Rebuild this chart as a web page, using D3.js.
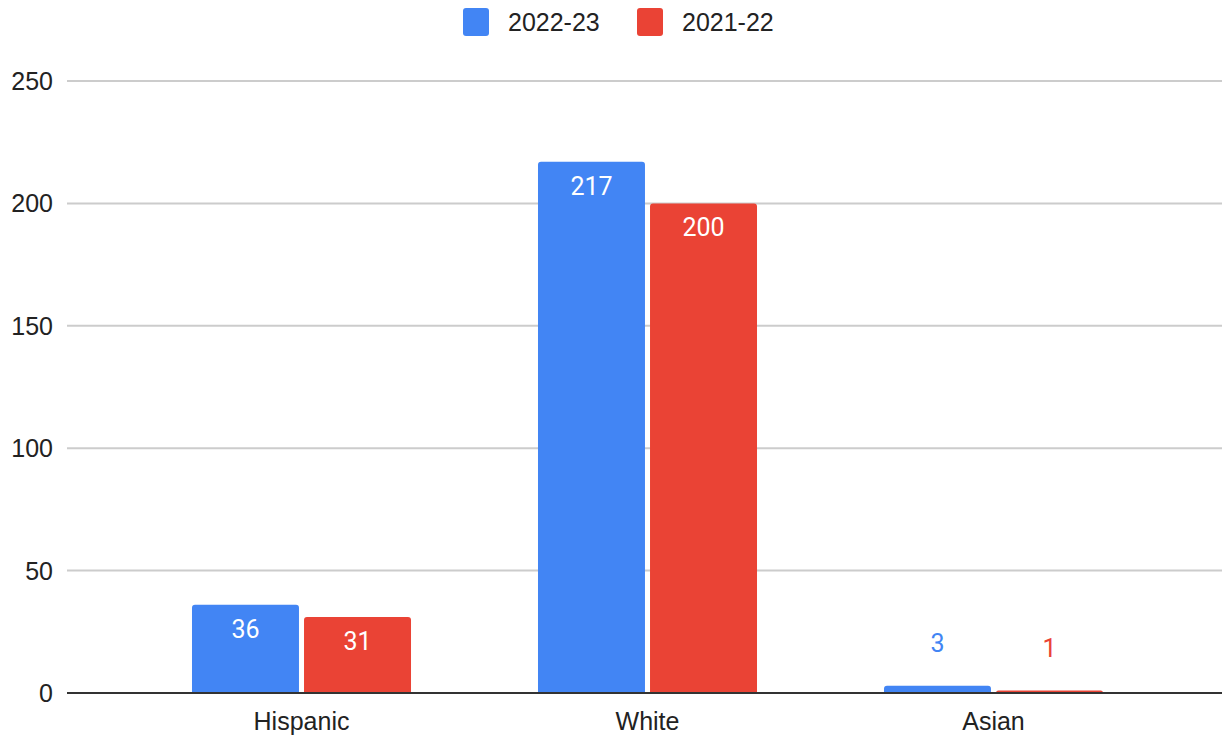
<!DOCTYPE html>
<html><head><meta charset="utf-8">
<script src="https://cdn.jsdelivr.net/npm/d3@7"></script>
<style>body{margin:0;background:#fff;font-family:"Liberation Sans",Arial,sans-serif;}</style>
</head><body><svg id="c" width="1222" height="738"></svg>
<script>
const categories = ["Hispanic", "White", "Asian"];
const seriesNames = ["2022-23", "2021-22"];
const values2223 = [36, 217, 3];
const values2122 = [31, 200, 1];
const yTicks = [0, 50, 100, 150, 200, 250];
const colors = ["#4285f4", "#ea4335"];

const svg = d3.select("#c");
const axisFont = "'Liberation Sans', Arial, sans-serif";
const y = d3.scaleLinear().domain([0, 250]).range([693, 81]);
const x = d3.scaleBand().domain(categories).range([128.5, 1166.5]).paddingInner(0.367).paddingOuter(0.1835);
const xs = d3.scaleBand().domain(seriesNames).range([0, x.bandwidth()]).paddingInner(0.045);
const gridL = 67, gridR = 1222;

svg.append("g").selectAll("line").data(yTicks.filter(d => d > 0)).join("line")
  .attr("x1", gridL).attr("x2", gridR).attr("y1", d => y(d)).attr("y2", d => y(d))
  .attr("stroke", "#cccccc").attr("stroke-width", 2);

svg.append("g").selectAll("text").data(yTicks).join("text")
  .attr("x", 53).attr("y", d => y(d) + 9).attr("text-anchor", "end")
  .attr("font-family", axisFont).attr("font-size", 25).attr("fill", "#222").text(d => d);

const data = categories.map((c, i) => ({cat: c, vals: [values2223[i], values2122[i]]}));

function topRounded(x0, y0, w, h, r) {
  r = Math.min(r, h, w / 2);
  return `M${x0},${y0 + h}V${y0 + r}Q${x0},${y0} ${x0 + r},${y0}H${x0 + w - r}Q${x0 + w},${y0} ${x0 + w},${y0 + r}V${y0 + h}Z`;
}

const groups = svg.append("g").selectAll("g").data(data).join("g")
  .attr("transform", d => `translate(${x(d.cat)},0)`);
groups.selectAll("path").data(d => d.vals.map((v, j) => ({v, s: seriesNames[j], j}))).join("path")
  .attr("d", d => topRounded(xs(d.s), y(d.v), xs.bandwidth(), y(0) - y(d.v), 3))
  .attr("fill", d => colors[d.j]);
groups.selectAll("text").data(d => d.vals.map((v, j) => ({v, s: seriesNames[j], j}))).join("text")
  .attr("x", d => xs(d.s) + xs.bandwidth() / 2)
  .attr("y", d => (y(0) - y(d.v) > 45) ? y(d.v) + 33 : y(d.v) - 34)
  .attr("text-anchor", "middle").attr("font-family", "Roboto, sans-serif").attr("font-size", 25)
  .attr("fill", d => (y(0) - y(d.v) > 45) ? "#fff" : colors[d.j])
  .text(d => d.v);

svg.append("line").attr("x1", gridL).attr("x2", gridR).attr("y1", y(0)).attr("y2", y(0))
  .attr("stroke", "#333").attr("stroke-width", 2);

svg.append("g").selectAll("text").data(categories).join("text")
  .attr("x", d => x(d) + x.bandwidth() / 2).attr("y", 730).attr("text-anchor", "middle")
  .attr("font-family", axisFont).attr("font-size", 25).attr("fill", "#222").text(d => d);

const legX = [463, 637];
const leg = svg.append("g").selectAll("g").data(seriesNames).join("g")
  .attr("transform", (d, i) => `translate(${legX[i]},8)`);
leg.append("rect").attr("width", 26).attr("height", 28).attr("rx", 3).attr("fill", (d, i) => colors[i]);
leg.append("text").attr("x", 45).attr("y", 23).attr("font-family", axisFont).attr("font-size", 25).attr("fill", "#222").text(d => d);
</script></body></html>
